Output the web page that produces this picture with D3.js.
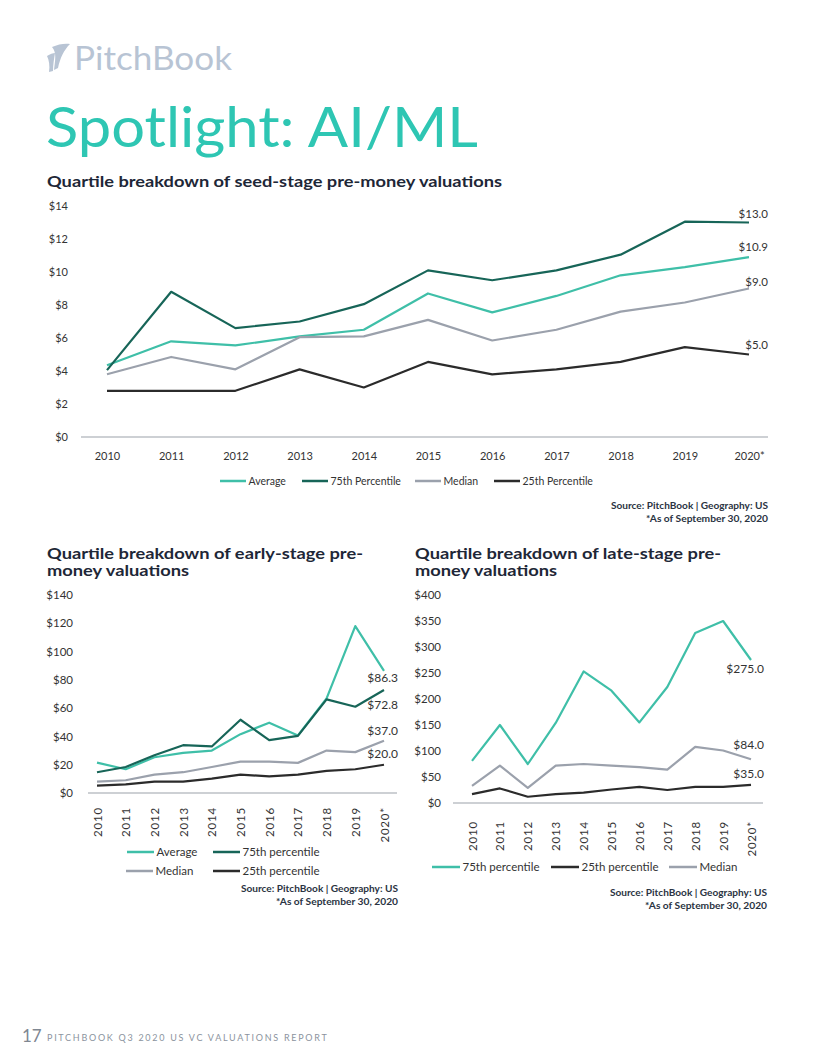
<!DOCTYPE html>
<html>
<head>
<meta charset="utf-8">
<script src="https://cdn.jsdelivr.net/npm/d3@7"></script>
<style>
  body { margin: 0; background: #fff; }
  svg { display: block; font-family: Lato, "Open Sans", sans-serif; }
  .tick text { fill: #333; }
</style>
</head>
<body>
<div id="page"></div>
<script>
// years shared by all three charts
const years = ["2010", "2011", "2012", "2013", "2014", "2015", "2016", "2017", "2018", "2019", "2020*"];

// seed stage ($M)
const seedAvg    = [4.35, 5.8, 5.55, 6.1, 6.5, 8.7, 7.55, 8.55, 9.8, 10.3, 10.9];
const seedP75    = [4.05, 8.8, 6.6, 7.0, 8.05, 10.1, 9.5, 10.1, 11.05, 13.05, 13.0];
const seedMedian = [3.8, 4.85, 4.1, 6.05, 6.1, 7.1, 5.85, 6.5, 7.6, 8.15, 9.0];
const seedP25    = [2.8, 2.8, 2.8, 4.1, 3.0, 4.55, 3.8, 4.1, 4.55, 5.45, 5.0];
const seedTicks  = [0, 2, 4, 6, 8, 10, 12, 14];

// early stage ($M)
const earlyAvg    = [21.5, 16.8, 25.3, 28.4, 30.0, 41.6, 49.7, 40.7, 66.9, 118.0, 86.3];
const earlyP75    = [14.7, 18.4, 26.7, 33.8, 32.9, 51.8, 37.4, 40.4, 66.2, 61.0, 72.8];
const earlyMedian = [8.0, 9.0, 13.0, 14.7, 18.4, 22.2, 22.2, 21.3, 30.0, 28.9, 37.0];
const earlyP25    = [5.2, 6.1, 8.0, 8.0, 10.2, 13.0, 11.8, 13.0, 15.6, 16.8, 20.0];
const earlyTicks  = [0, 20, 40, 60, 80, 100, 120, 140];

// late stage ($M)
const lateP75    = [81, 150, 75, 154, 253, 216, 155, 223, 327, 350, 275.0];
const lateP25    = [17, 28, 12, 17, 20, 26, 31, 25, 31, 31, 35.0];
const lateMedian = [33, 72, 29, 72, 75, 72, 69, 64, 108, 101, 84.0];
const lateTicks  = [0, 50, 100, 150, 200, 250, 300, 350, 400];

const TEAL = "#3fbfa8", DKGREEN = "#176558", GRAY = "#9ba1ac", DARK = "#2b2b2b";

const svg = d3.select("#page").append("svg")
  .attr("width", 816)
  .attr("height", 1056);

//HEADER
const logo = svg.append("g").attr("fill", "#b8c4d4");
logo.append("path").attr("d", "M52,47 C58,44 66,43 70,44 C64,50 60,58 58,68 L54,70 C55,60 57,53 52,47 Z");
logo.append("path").attr("d", "M47,56 C50,54 53,53 55,53 C54,59 53,65 53,71 L49,72 C50,66 49,60 47,56 Z");
svg.append("text")
  .attr("x", 74).attr("y", 70)
  .attr("font-size", 32)
  .attr("fill", "#b8c4d4")
  .attr("textLength", 158)
  .attr("lengthAdjust", "spacingAndGlyphs")
  .text("PitchBook");

svg.append("text")
  .attr("x", 46).attr("y", 147)
  .attr("font-size", 57)
  .attr("fill", "#2ec6b3")
  .attr("textLength", 432)
  .attr("lengthAdjust", "spacingAndGlyphs")
  .text("Spotlight: AI/ML");

function title(lines, x, y, widths) {
  lines.forEach((t, i) => {
    svg.append("text")
      .attr("x", x).attr("y", y + i * 17)
      .attr("font-size", 15.5)
      .attr("font-weight", 700)
      .attr("fill", "#1e2737")
      .attr("textLength", widths[i])
      .attr("lengthAdjust", "spacingAndGlyphs")
      .text(t);
  });
}

function source(xRight, y) {
  const lines = [["Source: PitchBook | Geography: US", 157], ["*As of September 30, 2020", 122]];
  lines.forEach(([t, w], i) => {
    svg.append("text")
      .attr("x", xRight - w).attr("y", y + i * 12.5)
      .attr("font-size", 8.5)
      .attr("font-weight", 700)
      .attr("fill", "#2a3342")
      .attr("textLength", w)
      .attr("lengthAdjust", "spacingAndGlyphs")
      .text(t);
  });
}

//one chart panel
function drawChart(cfg) {
  const x = d3.scalePoint().domain(years).range(cfg.xRange);
  const y = d3.scaleLinear().domain(cfg.yDomain).range(cfg.yRange);
  const g = svg.append("g");

  // y axis, labels only
  const yAxis = d3.axisLeft(y).tickValues(cfg.ticks).tickSize(0).tickPadding(0)
    .tickFormat(d => "$" + d);
  g.append("g")
    .attr("transform", `translate(${cfg.yLabelX}, 0)`)
    .call(yAxis)
    .call(a => a.select(".domain").remove())
    .selectAll("text")
    .attr("font-size", cfg.fontSize)
    .attr("font-family", "Lato, sans-serif");

  // baseline
  g.append("line")
    .attr("x1", cfg.baseX[0]).attr("x2", cfg.baseX[1])
    .attr("y1", y(0)).attr("y2", y(0))
    .attr("stroke", "#bcc0c6")
    .attr("stroke-width", 1.5);

  // x axis
  const xAxis = d3.axisBottom(x).tickSize(0).tickPadding(cfg.xPad);
  const xg = g.append("g")
    .attr("transform", `translate(0, ${y(0)})`)
    .call(xAxis)
    .call(a => a.select(".domain").remove());
  xg.selectAll("text")
    .attr("font-size", cfg.fontSize)
    .attr("font-family", "Lato, sans-serif");
  if (cfg.rotate) {
    xg.selectAll("text")
      .attr("transform", "rotate(-90)")
      .attr("text-anchor", "end")
      .attr("x", -cfg.xPad)
      .attr("y", 0)
      .attr("dy", "0.35em")
      .attr("letter-spacing", 0.8);
  }

  // lines
  const line = d3.line().x((d, i) => x(years[i])).y(d => y(d));
  cfg.series.forEach(s => {
    g.append("path")
      .datum(s.values)
      .attr("d", line)
      .attr("fill", "none")
      .attr("stroke", s.color)
      .attr("stroke-width", 2.2)
      .attr("stroke-linejoin", "round");

    const last = s.values[s.values.length - 1];
    g.append("text")
      .attr("x", cfg.labelX)
      .attr("y", y(last) + s.labelDy)
      .attr("text-anchor", "end")
      .attr("font-size", cfg.labelSize)
      .attr("fill", "#333")
      .text("$" + last.toFixed(1));
  });

  // legend
  cfg.legend.forEach(l => {
    const s = cfg.series.find(d => d.name === l.name);
    g.append("line")
      .attr("x1", l.x).attr("x2", l.x + cfg.legendLine)
      .attr("y1", l.y).attr("y2", l.y)
      .attr("stroke", s.color)
      .attr("stroke-width", 2.5);
    g.append("text")
      .attr("x", l.x + cfg.legendLine + 2.5)
      .attr("y", l.y)
      .attr("dy", "0.35em")
      .attr("font-size", cfg.legendSize)
      .attr("fill", "#333")
      .text(s.name);
  });
}

//SEED
title(["Quartile breakdown of seed-stage pre-money valuations"], 47, 187, [455]);
drawChart({
  xRange: [107, 749], yDomain: [0, 14], yRange: [437, 206],
  ticks: seedTicks, yLabelX: 68, baseX: [81, 768], xPad: 15,
  fontSize: 11, labelX: 768, labelSize: 11.5, rotate: false,
  series: [
    { name: "Average", values: seedAvg, color: TEAL, labelDy: -6 },
    { name: "75th Percentile", values: seedP75, color: DKGREEN, labelDy: -5 },
    { name: "Median", values: seedMedian, color: GRAY, labelDy: -3 },
    { name: "25th Percentile", values: seedP25, color: DARK, labelDy: -6 }
  ],
  legendLine: 26, legendSize: 10.5,
  legend: [
    { name: "Average", x: 220, y: 481 },
    { name: "75th Percentile", x: 302, y: 481 },
    { name: "Median", x: 415, y: 481 },
    { name: "25th Percentile", x: 494, y: 481 }
  ]
});
source(768, 509);

//EARLY
title(["Quartile breakdown of early-stage pre-", "money valuations"], 47, 559, [316, 142]);
drawChart({
  xRange: [97, 384], yDomain: [0, 140], yRange: [793, 595],
  ticks: earlyTicks, yLabelX: 73, baseX: [88, 397], xPad: 14,
  fontSize: 11.5, labelX: 398, labelSize: 12, rotate: true,
  series: [
    { name: "Average", values: earlyAvg, color: TEAL, labelDy: 11 },
    { name: "75th percentile", values: earlyP75, color: DKGREEN, labelDy: 19 },
    { name: "Median", values: earlyMedian, color: GRAY, labelDy: -6 },
    { name: "25th percentile", values: earlyP25, color: DARK, labelDy: -7 }
  ],
  legendLine: 27, legendSize: 11.5,
  legend: [
    { name: "Average", x: 127, y: 852 },
    { name: "75th percentile", x: 213, y: 852 },
    { name: "Median", x: 126, y: 871 },
    { name: "25th percentile", x: 213, y: 871 }
  ]
});
source(398, 892);

//LATE
title(["Quartile breakdown of late-stage pre-", "money valuations"], 415, 559, [306, 142]);
drawChart({
  xRange: [472, 751], yDomain: [0, 400], yRange: [803, 595],
  ticks: lateTicks, yLabelX: 441, baseX: [453, 763], xPad: 18,
  fontSize: 11.5, labelX: 764, labelSize: 12, rotate: true,
  series: [
    { name: "75th percentile", values: lateP75, color: TEAL, labelDy: 13 },
    { name: "25th percentile", values: lateP25, color: DARK, labelDy: -7 },
    { name: "Median", values: lateMedian, color: GRAY, labelDy: -10 }
  ],
  legendLine: 28, legendSize: 11.5,
  legend: [
    { name: "75th percentile", x: 432, y: 867 },
    { name: "25th percentile", x: 551, y: 867 },
    { name: "Median", x: 669, y: 867 }
  ]
});
source(767, 896);

//FOOTER
svg.append("text")
  .attr("x", 22).attr("y", 1042)
  .attr("font-size", 17)
  .attr("fill", "#7f8792")
  .text("17");
svg.append("text")
  .attr("x", 47).attr("y", 1041)
  .attr("font-size", 9)
  .attr("fill", "#8b939e")
  .attr("letter-spacing", 1.3)
  .attr("textLength", 281)
  .text("PITCHBOOK Q3 2020 US VC VALUATIONS REPORT");
</script>
</body>
</html>
